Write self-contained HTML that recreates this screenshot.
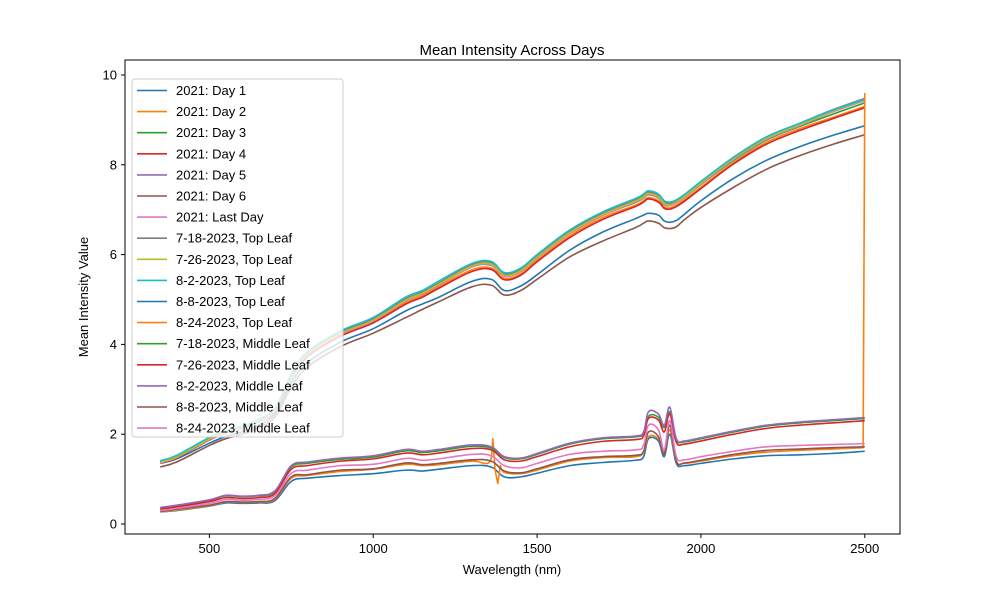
<!DOCTYPE html>
<html><head><meta charset="utf-8"><style>
body{margin:0;background:#fff}
svg{font-family:"Liberation Sans","DejaVu Sans",sans-serif}
</style></head><body>
<svg id="chart" width="1000" height="600" viewBox="0 0 1000 600" xmlns="http://www.w3.org/2000/svg">
<rect x="0" y="0" width="1000" height="600" fill="#fff"/>
<text x="512" y="64" font-size="15" text-anchor="middle" dy="-9">Mean Intensity Across Days</text>
<g id="plot"></g>
<rect x="125" y="60" width="775" height="474" fill="none" stroke="#000" stroke-width="1"/>
<g id="xticks"></g>
<g id="yticks"></g>
<text x="512" y="574" font-size="13" text-anchor="middle">Wavelength (nm)</text>
<text x="88" y="297" font-size="13" text-anchor="middle" transform="rotate(-90 88 297)">Mean Intensity Value</text>
<g id="legend"></g>
</svg>
<script>
const W = [350,400,500,550,600,650,700,750,800,900,1000,1100,1150,1200,1300,1360,1400,1450,1500,1600,1700,1800,1825,1840,1870,1888,1905,1925,1950,2000,2100,2200,2300,2400,2500];
const Wo = [350,400,500,550,600,650,700,750,800,900,1000,1100,1150,1200,1300,1355,1365,1372,1380,1388,1400,1450,1500,1600,1700,1800,1825,1840,1870,1888,1905,1925,1950,2000,2100,2200,2300,2400,2495,2500];
const d1 = [1.35,1.45,1.8,1.95,2.05,2.2,2.45,3.15,3.6,4.05,4.35,4.75,4.9,5.05,5.4,5.45,5.2,5.3,5.55,6.1,6.5,6.8,6.88,6.92,6.88,6.75,6.72,6.76,6.9,7.2,7.7,8.1,8.4,8.65,8.87];
const d2 = [1.37,1.48,1.88,2.03,2.13,2.28,2.52,3.27,3.75,4.2,4.5,4.93,5.08,5.28,5.66,5.7,5.47,5.57,5.87,6.42,6.82,7.1,7.2,7.27,7.2,7.06,7.04,7.1,7.22,7.5,8.05,8.5,8.8,9.05,9.3];
const d3 = [1.39,1.5,1.9,2.05,2.15,2.3,2.55,3.3,3.78,4.23,4.53,4.97,5.12,5.32,5.72,5.76,5.52,5.62,5.92,6.47,6.87,7.16,7.26,7.33,7.26,7.11,7.09,7.15,7.27,7.56,8.1,8.55,8.85,9.12,9.38];
const d4 = [1.36,1.47,1.87,2.02,2.12,2.27,2.5,3.25,3.73,4.18,4.48,4.9,5.05,5.25,5.62,5.67,5.44,5.54,5.84,6.38,6.78,7.07,7.17,7.24,7.17,7.03,7.01,7.07,7.19,7.47,8.02,8.46,8.76,9.02,9.27];
const d5 = [1.38,1.5,1.9,2.05,2.15,2.3,2.55,3.3,3.8,4.25,4.55,5.0,5.15,5.35,5.75,5.8,5.55,5.65,5.95,6.5,6.9,7.2,7.3,7.37,7.3,7.15,7.12,7.18,7.3,7.6,8.15,8.6,8.9,9.2,9.47];
const d6 = [1.27,1.38,1.75,1.9,2.0,2.15,2.38,3.05,3.5,3.95,4.25,4.6,4.78,4.95,5.28,5.32,5.1,5.2,5.45,5.95,6.3,6.6,6.7,6.75,6.7,6.6,6.58,6.62,6.78,7.05,7.5,7.9,8.2,8.45,8.67];
const dLast = [1.36,1.48,1.88,2.03,2.13,2.28,2.53,3.28,3.77,4.22,4.52,4.97,5.12,5.32,5.72,5.77,5.52,5.62,5.92,6.47,6.87,7.17,7.27,7.34,7.27,7.12,7.09,7.15,7.27,7.57,8.12,8.57,8.87,9.17,9.43];
const t0718 = [1.4,1.52,1.92,2.07,2.17,2.32,2.57,3.32,3.82,4.27,4.57,5.02,5.17,5.37,5.77,5.82,5.57,5.67,5.97,6.52,6.92,7.22,7.32,7.39,7.32,7.17,7.14,7.2,7.32,7.62,8.17,8.62,8.92,9.22,9.48];
const t0726 = [1.38,1.49,1.89,2.04,2.14,2.29,2.54,3.29,3.79,4.24,4.54,4.99,5.14,5.34,5.74,5.79,5.54,5.64,5.94,6.49,6.89,7.19,7.29,7.36,7.29,7.14,7.11,7.17,7.29,7.59,8.14,8.59,8.89,9.19,9.45];
const t0802 = [1.41,1.53,1.93,2.08,2.18,2.33,2.58,3.34,3.84,4.3,4.6,5.06,5.2,5.41,5.8,5.85,5.6,5.7,6.0,6.55,6.95,7.25,7.35,7.42,7.35,7.2,7.17,7.22,7.34,7.63,8.17,8.62,8.92,9.21,9.46];
const t0808 = [0.27,0.3,0.4,0.47,0.46,0.47,0.52,0.95,1.02,1.08,1.12,1.2,1.18,1.22,1.3,1.27,1.05,1.05,1.13,1.3,1.37,1.42,1.5,1.9,1.85,1.5,2.0,1.35,1.3,1.35,1.45,1.52,1.54,1.57,1.62];
const t0824 = [0.27,0.31,0.41,0.49,0.48,0.49,0.55,1.02,1.08,1.17,1.22,1.33,1.3,1.32,1.4,1.38,1.9,1.2,0.9,1.3,1.15,1.12,1.2,1.4,1.48,1.5,1.6,1.95,1.9,1.6,2.1,1.4,1.35,1.4,1.52,1.6,1.64,1.67,1.7,9.6];
const m0718 = [0.36,0.41,0.53,0.63,0.61,0.63,0.72,1.27,1.35,1.44,1.49,1.63,1.59,1.63,1.73,1.69,1.48,1.45,1.55,1.78,1.9,1.94,2.02,2.4,2.38,2.15,2.5,1.88,1.83,1.9,2.05,2.18,2.25,2.3,2.35];
const m0726 = [0.33,0.38,0.5,0.59,0.57,0.59,0.68,1.22,1.3,1.4,1.45,1.58,1.54,1.58,1.68,1.65,1.43,1.4,1.5,1.72,1.84,1.88,1.96,2.35,2.32,2.05,2.45,1.82,1.78,1.85,2.0,2.13,2.2,2.25,2.3];
const m0802 = [0.37,0.42,0.54,0.64,0.62,0.64,0.74,1.3,1.38,1.47,1.52,1.66,1.62,1.66,1.76,1.72,1.5,1.47,1.57,1.8,1.92,1.96,2.05,2.5,2.45,2.2,2.6,1.9,1.85,1.92,2.07,2.2,2.27,2.32,2.37];
const m0808 = [0.28,0.33,0.42,0.5,0.49,0.5,0.57,1.05,1.1,1.2,1.23,1.36,1.32,1.35,1.43,1.4,1.18,1.14,1.23,1.43,1.5,1.53,1.62,2.05,1.95,1.55,2.2,1.4,1.36,1.42,1.55,1.64,1.67,1.7,1.72];
const m0824 = [0.3,0.35,0.46,0.55,0.53,0.55,0.63,1.13,1.2,1.3,1.33,1.46,1.42,1.45,1.55,1.52,1.3,1.25,1.35,1.55,1.62,1.65,1.75,2.2,2.1,1.65,2.3,1.5,1.43,1.5,1.62,1.72,1.75,1.77,1.79];
const seriesNames = ["2021: Day 1","2021: Day 2","2021: Day 3","2021: Day 4","2021: Day 5","2021: Day 6","2021: Last Day","7-18-2023, Top Leaf","7-26-2023, Top Leaf","8-2-2023, Top Leaf","8-8-2023, Top Leaf","8-24-2023, Top Leaf","7-18-2023, Middle Leaf","7-26-2023, Middle Leaf","8-2-2023, Middle Leaf","8-8-2023, Middle Leaf","8-24-2023, Middle Leaf"];
const seriesValues = [d1,d2,d3,d4,d5,d6,dLast,t0718,t0726,t0802,t0808,t0824,m0718,m0726,m0802,m0808,m0824];
const xTicks = [500,1000,1500,2000,2500];
const yTicks = [0,2,4,6,8,10];

const colors = ["#1f77b4","#ff7f0e","#2ca02c","#d62728","#9467bd","#8c564b","#e377c2","#7f7f7f","#bcbd22","#17becf"];
const NS = "http://www.w3.org/2000/svg";
const xS = v => 125 + (v - 242.5) / (2607.5 - 242.5) * 775;
const yS = v => 524 - v * 44.9;
function mk(tag, attrs, parent){const e=document.createElementNS(NS,tag);for(const k in attrs)e.setAttribute(k,attrs[k]);parent.appendChild(e);return e;}
function smoothPath(pts){
  let d = 'M' + pts[0][0].toFixed(2) + ',' + pts[0][1].toFixed(2);
  const n = pts.length;
  for (let i = 0; i < n - 1; i++) {
    let p0 = pts[Math.max(0, i - 1)], p1 = pts[i], p2 = pts[i + 1], p3 = pts[Math.min(n - 1, i + 2)];
    if (Math.abs(p2[0] - p1[0]) < 3) { d += ' L' + p2[0].toFixed(2) + ',' + p2[1].toFixed(2); continue; }
    if (Math.abs(p3[0] - p2[0]) < 3) p3 = p2;
    if (Math.abs(p1[0] - p0[0]) < 3) p0 = p1;
    const t = 0.18;
    const c1 = [p1[0] + (p2[0] - p0[0]) * t, p1[1] + (p2[1] - p0[1]) * t];
    const c2 = [p2[0] - (p3[0] - p1[0]) * t, p2[1] - (p3[1] - p1[1]) * t];
    c1[0] = Math.min(Math.max(c1[0], p1[0]), p2[0]); c2[0] = Math.min(Math.max(c2[0], p1[0]), p2[0]);
    d += ' C' + c1[0].toFixed(2) + ',' + c1[1].toFixed(2) + ' ' + c2[0].toFixed(2) + ',' + c2[1].toFixed(2) + ' ' + p2[0].toFixed(2) + ',' + p2[1].toFixed(2);
  }
  return d;
}

const plot = document.getElementById('plot');
seriesValues.forEach((vals, i) => {
  const xs = vals.length === Wo.length ? Wo : W;
  const pts = vals.map((v, j) => [xS(xs[j]), yS(v)]);
  const p = mk('path', {d: smoothPath(pts), fill: 'none', stroke: colors[i % 10], 'stroke-width': 1.6, 'stroke-linejoin': 'round'}, plot);
  
  
});

const xg = document.getElementById('xticks');
xTicks.forEach(t => {
  const x = xS(t);
  const l = mk('line', {x1: x, x2: x, y1: 534, y2: 538, stroke: '#000'}, xg);
  
  
  const tx = mk('text', {x: x, y: 553, 'font-size': 13, 'text-anchor': 'middle'}, xg);
  tx.textContent = t;
  
  
});
const yg = document.getElementById('yticks');
yTicks.forEach(t => {
  const y = yS(t);
  const l = mk('line', {x1: 121, x2: 125, y1: y, y2: y, stroke: '#000'}, yg);
  
  
  const tx = mk('text', {x: 117, y: y + 4.5, 'font-size': 13, 'text-anchor': 'end'}, yg);
  tx.textContent = t;
  
  
});

const lg = document.getElementById('legend');
const box = mk('rect', {x: 132, y: 79, width: 211, height: 358, rx: 3, fill: '#fff', 'fill-opacity': 0.8, stroke: '#ccc'}, lg);


seriesNames.forEach((n, i) => {
  const y = 90.5 + i * 21.1;
  const g = mk('g', {}, lg);
  
  
  mk('line', {x1: 137, x2: 167, y1: y, y2: y, stroke: colors[i % 10], 'stroke-width': 1.6}, g);
  const tx = mk('text', {x: 176, y: y + 4.5, 'font-size': 13}, g);
  tx.textContent = n;
});
</script>
</body></html>
